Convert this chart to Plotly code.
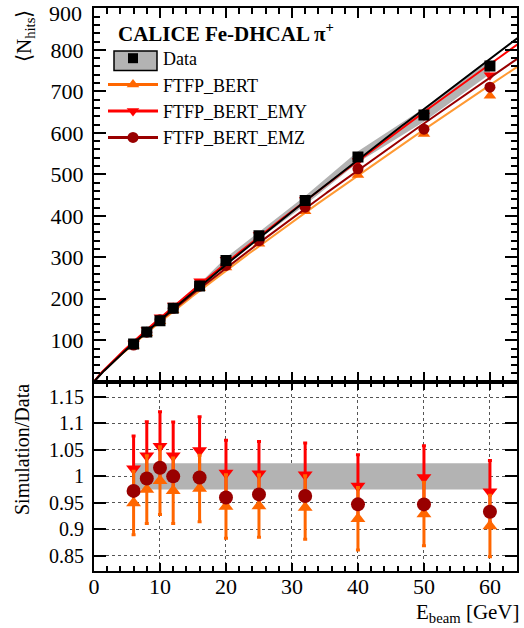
import numpy as np
import plotly.graph_objects as go

# ---------------- data ----------------
E_beam = [6, 8, 10, 12, 16, 20, 25, 32, 40, 50, 60]
data_N = [91, 120, 147, 177, 231, 292, 352, 437, 542, 643, 761]
data_syst_rel = [0.025] * 11
bert_N = [86.4, 117.0, 145.8, 172.2, 225.7, 275.4, 332.3, 411.2, 498.6, 597.3, 689.5]
emy_N = [92.3, 124.7, 155.4, 183.9, 242.3, 293.8, 353.8, 438.3, 532.2, 641.7, 738.9]
emz_N = [88.5, 119.5, 149.4, 177.0, 230.5, 280.3, 340.0, 420.8, 513.3, 608.9, 710.0]
bert_ratio_err = [0.060, 0.064, 0.064, 0.062, 0.063, 0.060, 0.059, 0.060, 0.059, 0.060, 0.058]
emy_ratio_err = [0.062, 0.064, 0.065, 0.064, 0.064, 0.062, 0.061, 0.060, 0.059, 0.060, 0.059]

x_ticks = [0, 10, 20, 30, 40, 50, 60]
y_ticks_top = [100, 200, 300, 400, 500, 600, 700, 800, 900]
y_ticklabels_top = ["100", "200", "300", "400", "500", "600", "700", "800", ""]
y_top_label_last = "900"
y_ticks_bot = [0.85, 0.9, 0.95, 1, 1.05, 1.1, 1.15]
y_ticklabels_bot = ["0.85", "0.9", "0.95", "1", "1.05", "1.1", "1.15"]

FONT = "Liberation Serif"
C_DATA = "black"
C_BERT = "#ff6600"
C_BERT_LINE = "#ff9933"
C_EMY = "#ff0000"
C_EMZ = "#990000"
C_BAND = "#b3b3b3"

E = np.array(E_beam, float)
dN = np.array(data_N, float)
rel = np.array(data_syst_rel)


def powerlaw_fit(x, y):
    m, c = np.polyfit(np.log(x), np.log(y), 1)
    xs = np.linspace(0.05, 66, 300)
    return xs, np.exp(c) * xs ** m


fig = go.Figure()

# ---- top panel ----
fig.add_trace(go.Scatter(x=np.concatenate([E, E[::-1]]),
                         y=np.concatenate([dN * (1 + rel), (dN * (1 - rel))[::-1]]),
                         fill="toself", fillcolor=C_BAND, line=dict(width=0),
                         mode="lines", showlegend=False, hoverinfo="skip",
                         xaxis="x", yaxis="y"))

series = [("FTFP_BERT", bert_N, C_BERT, C_BERT_LINE, "triangle-up", 11),
          ("FTFP_BERT_EMY", emy_N, C_EMY, C_EMY, "triangle-down", 11),
          ("FTFP_BERT_EMZ", emz_N, C_EMZ, C_EMZ, "circle", 11)]

for name, vals, col, lcol, sym, ms in series:
    xs, ys = powerlaw_fit(E, np.array(vals))
    fig.add_trace(go.Scatter(x=xs, y=ys, mode="lines", line=dict(color=lcol, width=2),
                             showlegend=False, hoverinfo="skip", xaxis="x", yaxis="y"))
    fig.add_trace(go.Scatter(x=E, y=vals, mode="markers",
                             marker=dict(symbol=sym, size=ms, color=col),
                             showlegend=False, xaxis="x", yaxis="y"))

xs, ys = powerlaw_fit(E, dN)
fig.add_trace(go.Scatter(x=xs, y=ys, mode="lines", line=dict(color=C_DATA, width=2),
                         showlegend=False, hoverinfo="skip", xaxis="x", yaxis="y"))
fig.add_trace(go.Scatter(x=E, y=dN, mode="markers",
                         marker=dict(symbol="square", size=11, color=C_DATA),
                         showlegend=False, xaxis="x", yaxis="y"))

# ---- legend-only entries ----
fig.add_trace(go.Scatter(x=[None], y=[None], mode="markers", name="Data",
                         marker=dict(symbol="square", size=10, color=C_DATA),
                         legendgroup="a", xaxis="x", yaxis="y"))
for i, (name, vals, col, lcol, sym, ms) in enumerate(series):
    fig.add_trace(go.Scatter(x=[None], y=[None], mode="lines+markers", name=name,
                             line=dict(color=col, width=3),
                             marker=dict(symbol=sym, size=11, color=col),
                             legendgroup="g%d" % i, xaxis="x", yaxis="y"))

# ---- bottom panel ----
fig.add_trace(go.Scatter(x=np.concatenate([E, E[::-1]]),
                         y=np.concatenate([1 + rel, (1 - rel)[::-1]]),
                         fill="toself", fillcolor=C_BAND, line=dict(width=0),
                         mode="lines", showlegend=False, hoverinfo="skip",
                         xaxis="x2", yaxis="y2"))
fig.add_trace(go.Scatter(x=E, y=np.array(emy_N) / dN, mode="markers",
                         marker=dict(symbol="triangle-down", size=13, color=C_EMY),
                         error_y=dict(type="data", array=emy_ratio_err, color=C_EMY,
                                      thickness=3, width=2),
                         showlegend=False, xaxis="x2", yaxis="y2"))
fig.add_trace(go.Scatter(x=E, y=np.array(bert_N) / dN, mode="markers",
                         marker=dict(symbol="triangle-up", size=13, color=C_BERT),
                         error_y=dict(type="data", array=bert_ratio_err, color=C_BERT,
                                      thickness=3, width=2),
                         showlegend=False, xaxis="x2", yaxis="y2"))
fig.add_trace(go.Scatter(x=E, y=np.array(emz_N) / dN, mode="markers",
                         marker=dict(symbol="circle", size=14, color=C_EMZ),
                         showlegend=False, xaxis="x2", yaxis="y2"))

# ---- layout ----
W, H = 524, 628
ML, MR, MT, MB = 94, 7, 8, 57
PW, PH = W - ML - MR, H - MT - MB
split = (571 - 381.7) / PH


def px_x(p):
    return (p - ML) / PW


def px_y(p):
    return (H - MB - p) / PH


axis_common = dict(showline=True, linecolor="black", linewidth=2, ticks="inside",
                   tickcolor="black", tickwidth=1.5, zeroline=False,
                   ticklabeloverflow="allow", automargin=False)

fig.update_layout(
    width=W, height=H, margin=dict(l=ML, r=MR, t=MT, b=MB, autoexpand=False),
    paper_bgcolor="white", plot_bgcolor="white",
    font=dict(family=FONT, color="black"),
    xaxis=dict(domain=[0, 1], range=[0, 64.1], anchor="y", matches="x2",
               showticklabels=False, tickvals=x_ticks, ticklen=10, mirror="ticks",
               showgrid=False, minor=dict(dtick=2, ticklen=6, tickcolor="black", ticks="inside"),
               **axis_common),
    yaxis=dict(domain=[split, 1], range=[0, 901], anchor="x", tickvals=y_ticks_top,
               ticktext=y_ticklabels_top,
               ticklen=12, mirror="ticks", showgrid=False, ticklabelstandoff=4,
               tickfont=dict(family=FONT, size=22, color="black"),
               minor=dict(dtick=20, ticklen=6, tickcolor="black", ticks="inside"),
               **axis_common),
    xaxis2=dict(domain=[0, 1], range=[0, 64.1], anchor="y2", tickvals=x_ticks,
                ticklen=8, mirror="ticks", showgrid=True, gridcolor="#555555",
                griddash="dot", gridwidth=1, ticklabelstandoff=-5,
                tickfont=dict(family=FONT, size=22, color="black"),
                minor=dict(dtick=2, ticklen=5, tickcolor="black", ticks="inside"),
                **axis_common),
    yaxis2=dict(domain=[0, split], range=[0.821, 1.179], anchor="x2",
                tickvals=y_ticks_bot, ticktext=y_ticklabels_bot, ticklen=12,
                mirror="ticks", showgrid=True, gridcolor="#555555", griddash="dot",
                gridwidth=1, ticklabelstandoff=4,
                tickfont=dict(family=FONT, size=20, color="black"),
                **axis_common),
    legend=dict(x=px_x(103), y=px_y(40), xanchor="left", yanchor="top",
                bgcolor="rgba(0,0,0,0)", font=dict(family=FONT, size=18, color="black"),
                itemwidth=50, tracegroupgap=0, traceorder="grouped"),
    showlegend=True,
)

# gray box behind Data legend symbol
fig.add_shape(type="rect", xref="paper", yref="paper",
              x0=px_x(114), x1=px_x(157), y0=px_y(70.5), y1=px_y(51),
              fillcolor=C_BAND, line=dict(color="black", width=1.5), layer="above")

# top tick label (kept inside the page, as in the reference)
fig.add_annotation(text=y_top_label_last, xref="paper", yref="paper",
                   x=px_x(84), y=px_y(13), xanchor="right", yanchor="middle",
                   showarrow=False, font=dict(family=FONT, size=22, color="black"))

fig.add_annotation(text="<b>CALICE Fe-DHCAL π<sup>+</sup></b>", xref="paper", yref="paper",
                   x=px_x(116), y=px_y(32), xanchor="left", yanchor="middle",
                   showarrow=False, font=dict(family=FONT, size=21, color="black"))
fig.add_annotation(text="⟨N<sub>hits</sub>⟩", xref="paper", yref="paper",
                   x=px_x(25), y=px_y(8), xanchor="center", yanchor="top", textangle=-90,
                   showarrow=False, font=dict(family=FONT, size=21, color="black"))
fig.add_annotation(text="Simulation/Data", xref="paper", yref="paper",
                   x=px_x(22), y=px_y(450), xanchor="center", yanchor="middle", textangle=-90,
                   showarrow=False, font=dict(family=FONT, size=20, color="black"))
fig.add_annotation(text="E<sub>beam</sub> [GeV]", xref="paper", yref="paper",
                   x=px_x(522), y=px_y(613), xanchor="right", yanchor="middle",
                   showarrow=False, font=dict(family=FONT, size=21, color="black"))

fig.write_html("out.html")
